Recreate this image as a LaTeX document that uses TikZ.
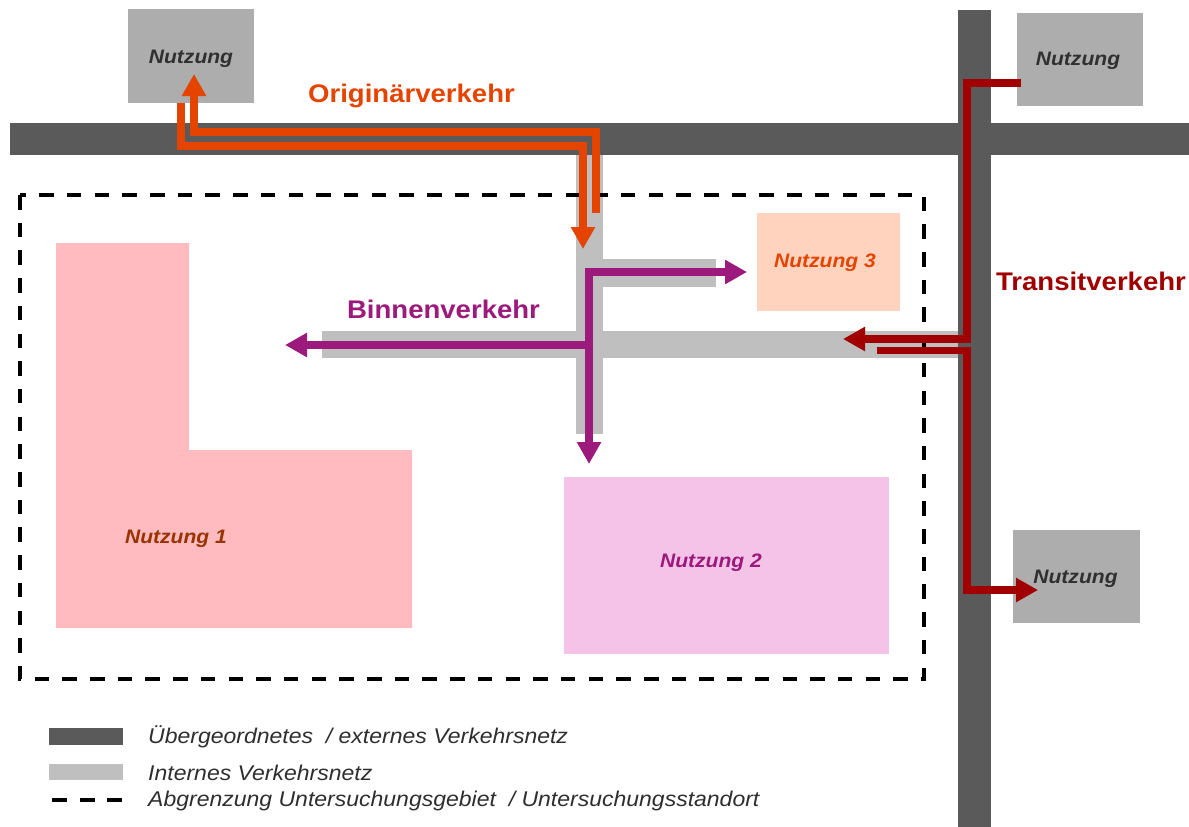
\documentclass[tikz,border=0pt]{standalone}
\usepackage{fontspec}
\setmainfont[FakeStretch=1.08]{Liberation Sans}
\usetikzlibrary{arrows.meta}

\definecolor{roaddark}{HTML}{5A5A5A}
\definecolor{roadlight}{HTML}{BFBFBF}
\definecolor{usegray}{HTML}{ADADAD}
\definecolor{usetextgray}{HTML}{303030}
\definecolor{useone}{HTML}{FFBBBF}
\definecolor{useonetext}{HTML}{993300}
\definecolor{usetwo}{HTML}{F6C3E8}
\definecolor{usethree}{HTML}{FFD3BD}
\definecolor{flowpurple}{HTML}{9C1A7B}
\definecolor{floworange}{HTML}{E44400}
\definecolor{flowred}{HTML}{A00000}
\definecolor{legendtext}{HTML}{2E2E2E}

\begin{document}
\begin{tikzpicture}[x=1pt,y=-1pt,
  usebox/.style={rectangle,inner sep=0pt,outer sep=0pt,draw=none},
  graybox/.style={usebox,fill=usegray},
  usetext/.style={inner sep=0pt,anchor=base,font=\fontsize{19.5pt}{23pt}\selectfont\bfseries\itshape},
  flowlabel/.style={inner sep=0pt,anchor=base,font=\fontsize{25.5pt}{30pt}\selectfont\bfseries},
  legendlabel/.style={inner sep=0pt,anchor=base west,text=legendtext,font=\fontsize{21.3pt}{25pt}\selectfont\itshape},
  flow/.style={line width=7.5pt,-{Triangle[length=22pt,width=23pt]}},
  studyline/.style={line width=4.5pt,dash pattern=on 14.5pt off 13.2pt},
]
\useasboundingbox (0,0) rectangle (1189,827);

% external road network
\fill[roaddark] (10,123) rectangle (1189,155);
\fill[roaddark] (958,10) rectangle (991,827);

% internal road network
\fill[roadlight] (576,155) rectangle (603,434);
\fill[roadlight] (603,259) rectangle (716,287);
\fill[roadlight] (322,331) rectangle (958,358);

% outside uses
\node[graybox,minimum width=126pt,minimum height=94pt] (extA) at (191,56) {};
\node[graybox,minimum width=126pt,minimum height=93pt] (extB) at (1080,59.5) {};
\node[graybox,minimum width=127pt,minimum height=93pt] (extC) at (1076.5,576.5) {};
\node[usetext,text=usetextgray] (extAt) at (191,63) {Nutzung};
\node[usetext,text=usetextgray] (extBt) at (1078,65) {Nutzung};
\node[usetext,text=usetextgray] (extCt) at (1075.5,583) {Nutzung};

% uses inside the study area
\fill[useone] (56,243) -- (189,243) -- (189,450) -- (412,450) -- (412,628) -- (56,628) -- cycle;
\node[usebox,fill=usetwo,minimum width=325pt,minimum height=177pt] (use2) at (726.5,565.5) {};
\node[usebox,fill=usethree,minimum width=143pt,minimum height=98pt] (use3) at (828.5,262) {};
\node[usetext,text=useonetext] (use1t) at (176,543) {Nutzung 1};
\node[usetext,text=flowpurple] (use2t) at (711,567) {Nutzung 2};
\node[usetext,text=floworange] (use3t) at (825,267) {Nutzung 3};

% study area boundary
\draw[studyline] (20,195) rectangle (924,679);

% origin/destination traffic
\coordinate (oA) at (596,213);
\coordinate (oB) at (596,132);
\coordinate (oC) at (194,132);
\coordinate (oD) at (194,74);
\draw[flow,floworange] (oA) -- (oB) -- (oC) -- (oD);
\coordinate (iA) at ([xshift=-10pt]extA.south);
\coordinate (iB) at (181,146);
\coordinate (iC) at (583,146);
\coordinate (iD) at (583,249);
\draw[flow,floworange] (iA) -- (iB) -- (iC) -- (iD);

% internal traffic
\coordinate (pR) at (747,272);
\coordinate (pK) at (589,272);
\coordinate (pD) at (589,464);
\coordinate (pM) at (589,345);
\coordinate (pL) at (285,345);
\draw[flow,flowpurple,{Triangle[length=22pt,width=23pt]}-{Triangle[length=22pt,width=23pt]}] (pR) -- (pK) -- (pD);
\draw[flow,flowpurple] (pM) -- (pL);

% through traffic
\coordinate (tA) at (1021,83);
\coordinate (tB) at (967,83);
\coordinate (tC) at (967,339);
\coordinate (tD) at (843,339);
\draw[flow,flowred] (tA) -- (tB) -- (tC) -- (tD);
\coordinate (uA) at (877,350.5);
\coordinate (uB) at (967,350.5);
\coordinate (uC) at (967,590);
\coordinate (uD) at (1038,590);
\draw[flow,flowred] (uA) -- (uB) -- (uC) -- (uD);

% flow labels
\node[flowlabel,text=floworange] (lblO) at (411.5,102) {Originärverkehr};
\node[flowlabel,text=flowpurple] (lblB) at (443.5,318) {Binnenverkehr};
\node[flowlabel,text=flowred] (lblT) at (1091,290) {Transitverkehr};

% legend
\fill[roaddark] (49,728) rectangle (123,745);
\fill[roadlight] (49,764) rectangle (123,780);
\draw[line width=4.7pt,dash pattern=on 15pt off 12.5pt] (52,800) -- (122,800);
\node[legendlabel] (leg1) at (148,743) {Übergeordnetes\ \ / externes Verkehrsnetz};
\node[legendlabel] (leg2) at (148,780) {Internes Verkehrsnetz};
\node[legendlabel] (leg3) at (148,806) {Abgrenzung Untersuchungsgebiet\ \ / Untersuchungsstandort};
\end{tikzpicture}
\end{document}
